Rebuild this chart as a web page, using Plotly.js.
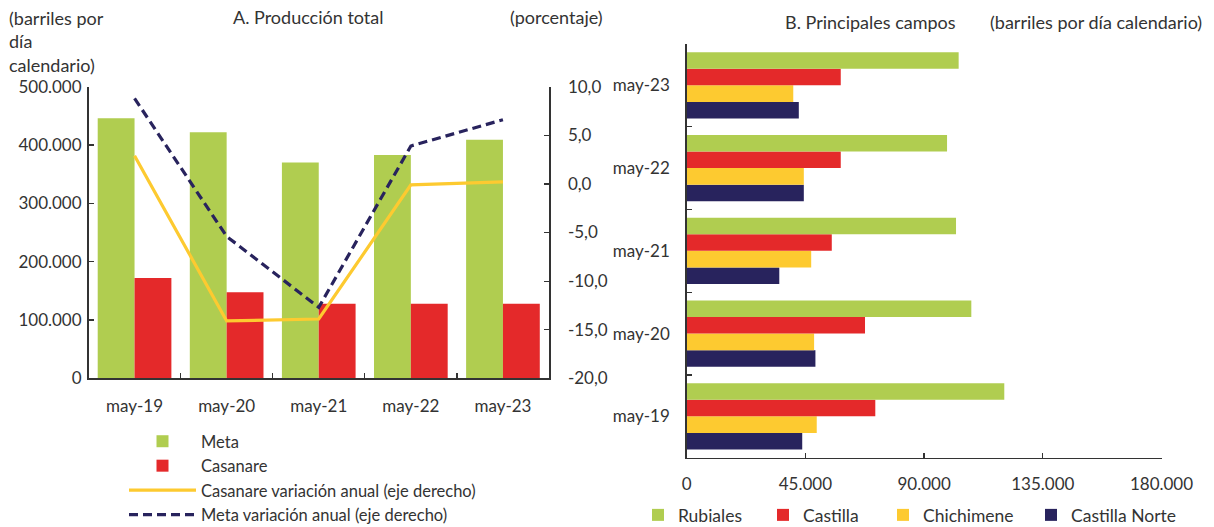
<!DOCTYPE html>
<html><head><meta charset="utf-8">
<script src="https://cdn.plot.ly/plotly-3.0.1.min.js"></script>
<style>html,body{margin:0;padding:0;background:#fff}#chart{width:1214px;height:527px}</style>
</head><body><div id="chart"></div>
<script>
// Panel A data
const yearsA = ['may-19','may-20','may-21','may-22','may-23'];
const metaProd = [446000, 422000, 370000, 383000, 409000];
const casanareProd = [172000, 147500, 128000, 128000, 128000];
const casanareVar = [2.9, -14.1, -13.9, -0.1, 0.2];
const metaVar = [8.8, -5.4, -12.7, 3.9, 6.6];
const pctTickVals = [-20, -15, -10, -5, 0, 5, 10];
const pctTickText = ['-20,0','-15,0','-10,0','-5,0','0,0','5,0','10,0'];

// Panel B data
const yearsB = ['may-19','may-20','may-21','may-22','may-23'];
const rubiales = [120400, 107900, 102100, 98700, 103100];
const castilla = [71500, 67600, 55000, 58400, 58400];
const chichimene = [49300, 48300, 47200, 44400, 40400];
const castillaNorte = [43800, 48800, 35100, 44400, 42500];

const GREEN = '#B0CD50', RED = '#E4292A', YELLOW = '#FDCA30', NAVY = '#28235D';
const FONT = 'Lato, "Open Sans", sans-serif';
const TXT = '#333333';
const W = 1214, H = 527;
const px = v => v / W, py = v => 1 - v / H;

const traces = [
  {type:'bar', name:'Meta', x:yearsA, y:metaProd, xaxis:'x', yaxis:'y', marker:{color:GREEN}, legend:'legend'},
  {type:'bar', name:'Casanare', x:yearsA, y:casanareProd, xaxis:'x', yaxis:'y', marker:{color:RED}, legend:'legend'},
  {type:'scatter', mode:'lines', name:'Casanare variación anual (eje derecho)', x:yearsA, y:casanareVar, xaxis:'x', yaxis:'y2', line:{color:YELLOW, width:3.2}, legend:'legend'},
  {type:'scatter', mode:'lines', name:'Meta variación anual (eje derecho)', x:yearsA, y:metaVar, xaxis:'x', yaxis:'y2', line:{color:NAVY, width:3.2, dash:'9px,5px'}, legend:'legend'},
  {type:'bar', orientation:'h', name:'Castilla Norte', y:yearsB, x:castillaNorte, xaxis:'x2', yaxis:'y3', marker:{color:NAVY}, legend:'legend5'},
  {type:'bar', orientation:'h', name:'Chichimene', y:yearsB, x:chichimene, xaxis:'x2', yaxis:'y3', marker:{color:YELLOW}, legend:'legend4'},
  {type:'bar', orientation:'h', name:'Castilla', y:yearsB, x:castilla, xaxis:'x2', yaxis:'y3', marker:{color:RED}, legend:'legend3'},
  {type:'bar', orientation:'h', name:'Rubiales', y:yearsB, x:rubiales, xaxis:'x2', yaxis:'y3', marker:{color:GREEN}, legend:'legend2'}
];

const axLine = {showline:true, linecolor:'#333', linewidth:1.5, ticks:'inside', ticklen:5, tickcolor:'#333', tickwidth:1.2, showgrid:false, zeroline:false, tickfont:{size:17}};

const smallFont = {family:FONT, size:17.5, color:TXT};
function smallLeg(xpx) {
  // single-entry legend, text centred near y=515
  return {x:px(xpx), y:py(497), xanchor:'left', yanchor:'top', orientation:'h', font:smallFont, bgcolor:'rgba(0,0,0,0)', itemwidth:30, maxheight:29};
}

const layout = {
  width:W, height:H, margin:{l:0,r:0,t:0,b:0},
  paper_bgcolor:'#fff', plot_bgcolor:'rgba(0,0,0,0)',
  separators:',.',
  font:{family:FONT, size:17, color:TXT},
  barmode:'group', bargap:0.2, bargroupgap:0,
  hovermode:false,
  xaxis:Object.assign({}, axLine, {domain:[px(88.5), px(549)], anchor:'y', type:'category', tickson:'boundaries', ticklabelstandoff:12}),
  yaxis:Object.assign({}, axLine, {domain:[py(378.3), py(86.7)], anchor:'x', range:[0,500000], dtick:100000, tickformat:',d', ticklabelstandoff:2}),
  yaxis2:Object.assign({}, axLine, {domain:[py(378.3), py(86.7)], anchor:'x', overlaying:'y', side:'right', range:[-20,10], tickvals:pctTickVals, ticktext:pctTickText, ticklabelstandoff:14}),
  xaxis2:Object.assign({}, axLine, {domain:[px(686.7), px(1161.5)], anchor:'y3', range:[0,180000], dtick:45000, tickformat:',d', ticklabelstandoff:10}),
  yaxis3:Object.assign({}, axLine, {domain:[py(457.7), py(44)], anchor:'x2', type:'category', tickson:'boundaries', ticklabelstandoff:12}),
  legend:{x:px(124), y:py(424), xanchor:'left', yanchor:'top', orientation:'v', itemwidth:67, font:{family:FONT, size:16.5, color:TXT}, tracegroupgap:0, bgcolor:'rgba(0,0,0,0)', maxheight:102},
  legend2:smallLeg(638),
  legend3:smallLeg(763),
  legend4:smallLeg(883),
  legend5:smallLeg(1031),
  annotations:[
    {text:'(barriles por<br>día<br>calendario)', xref:'paper', yref:'paper', x:px(7), y:py(5), xanchor:'left', yanchor:'top', align:'left', showarrow:false, font:{size:18}},
    {text:'A. Producción total', xref:'paper', yref:'paper', x:px(308), y:py(17), xanchor:'center', yanchor:'middle', showarrow:false, font:{size:18}},
    {text:'(porcentaje)', xref:'paper', yref:'paper', x:px(556), y:py(17), xanchor:'center', yanchor:'middle', showarrow:false, font:{size:18}},
    {text:'B. Principales campos', xref:'paper', yref:'paper', x:px(871), y:py(22), xanchor:'center', yanchor:'middle', showarrow:false, font:{size:18}},
    {text:'(barriles por día calendario)', xref:'paper', yref:'paper', x:px(1096), y:py(22), xanchor:'center', yanchor:'middle', showarrow:false, font:{size:18}}
  ]
};

Plotly.newPlot('chart', traces, layout, {staticPlot:true, displayModeBar:false});
</script></body></html>
